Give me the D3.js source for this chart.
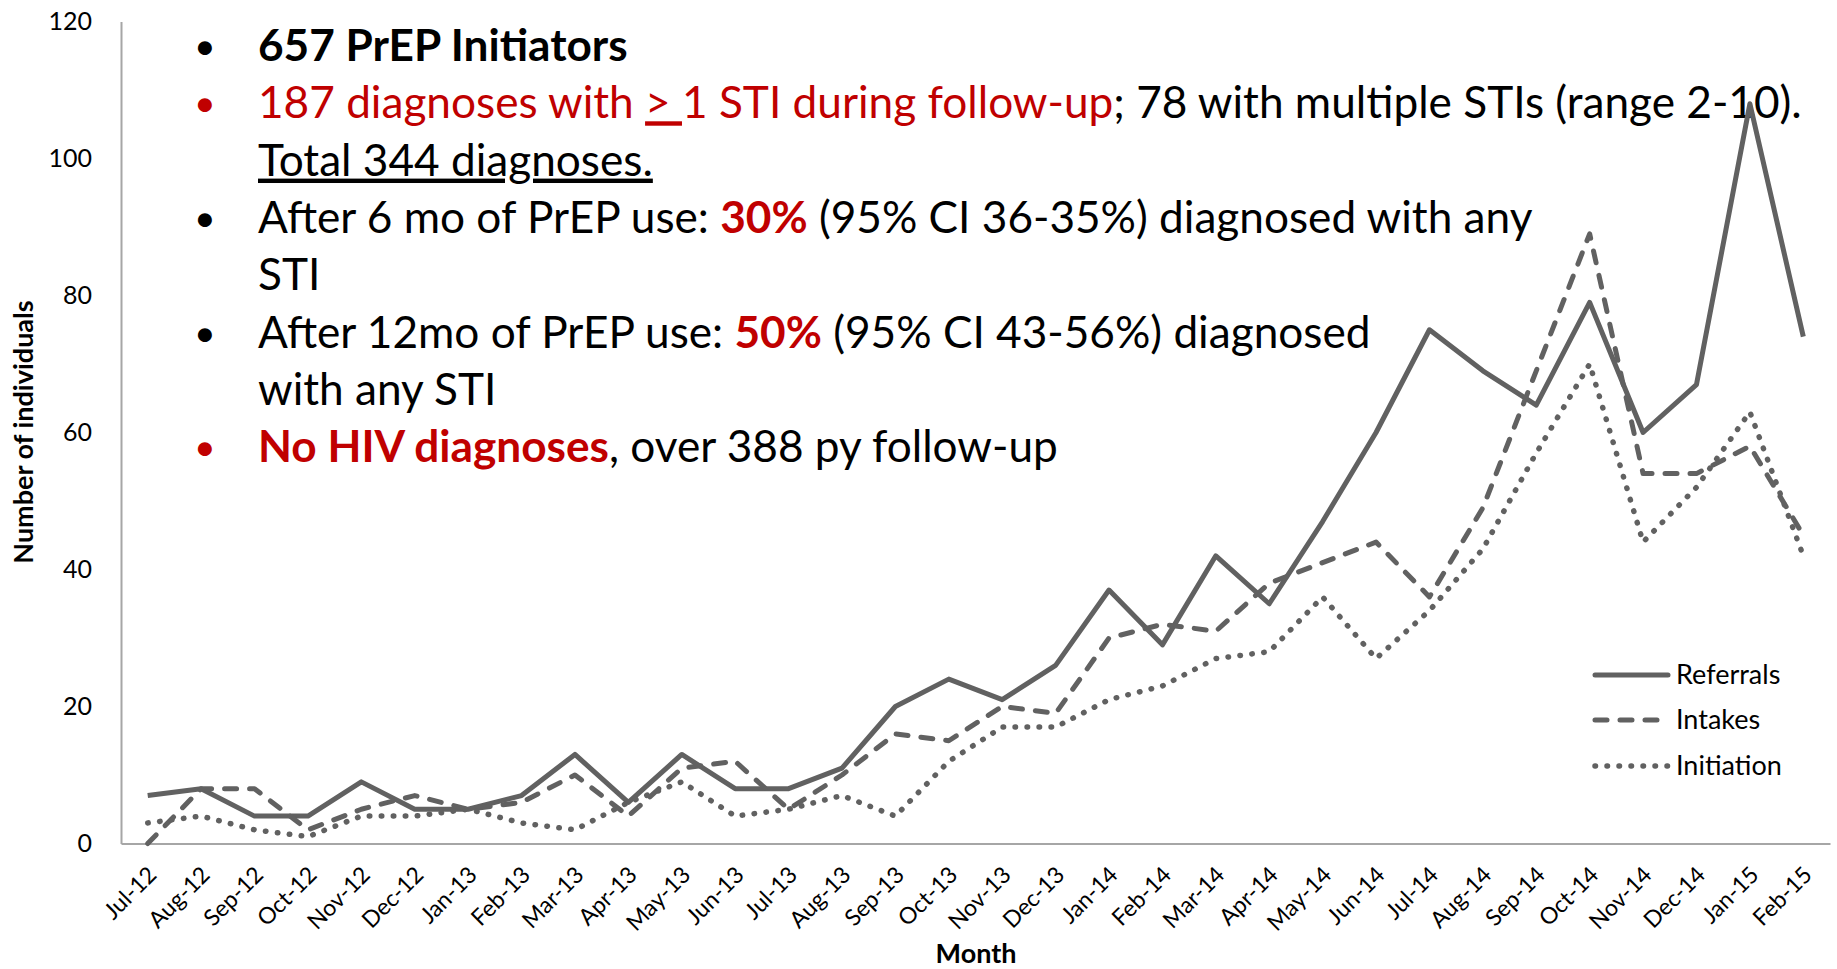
<!DOCTYPE html>
<html>
<head>
<meta charset="utf-8">
<script src="https://cdn.jsdelivr.net/npm/d3@7"></script>
<style>
  html, body { margin: 0; padding: 0; background: #ffffff; }
  svg { display: block; }
</style>
</head>
<body>
<svg id="chart" width="1837" height="969"></svg>
<script>
// ---------------- data ----------------
const months = ["Jul-12","Aug-12","Sep-12","Oct-12","Nov-12","Dec-12",
  "Jan-13","Feb-13","Mar-13","Apr-13","May-13","Jun-13","Jul-13","Aug-13","Sep-13","Oct-13","Nov-13","Dec-13",
  "Jan-14","Feb-14","Mar-14","Apr-14","May-14","Jun-14","Jul-14","Aug-14","Sep-14","Oct-14","Nov-14","Dec-14",
  "Jan-15","Feb-15"];
const referrals  = [7,8,4,4,9,5,5,7,13,6,13,8,8,11,20,24,21,26,37,29,42,35,47,60,75,69,64,79,60,67,108,74];
const intakes    = [0,8,8,2,5,7,5,6,10,4,11,12,5,10,16,15,20,19,30,32,31,38,41,44,36,49,69,89,54,54,58,45];
const initiation = [3,4,2,1,4,4,5,3,2,6,9,4,5,7,4,12,17,17,21,23,27,28,36,27,34,43,57,70,44,52,63,42];
const seriesNames = ["Referrals","Intakes","Initiation"];
const yTicks = [0,20,40,60,80,100,120];
const yTitle = "Number of individuals";
const xTitle = "Month";

// bullet text block (segments: t=text, b=bold, r=red, u=underline)
const bulletLines = [
  {bullet: "black", segs: [{t: "657 PrEP Initiators", b: true}]},
  {bullet: "red", segs: [{t: "187 diagnoses with ", r: true}, {t: "> ", r: true, u: true}, {t: "1 STI during follow-up", r: true}, {t: "; 78 with multiple STIs (range 2-10)."}]},
  {bullet: null, segs: [{t: "Total 344 diagnoses.", u: true}]},
  {bullet: "black", segs: [{t: "After 6 mo of PrEP use: "}, {t: "30%", b: true, r: true}, {t: " (95% CI 36-35%) diagnosed with any"}]},
  {bullet: null, segs: [{t: "STI"}]},
  {bullet: "black", segs: [{t: "After 12mo of PrEP use: "}, {t: "50%", b: true, r: true}, {t: " (95% CI 43-56%) diagnosed"}]},
  {bullet: null, segs: [{t: "with any STI"}]},
  {bullet: "red", segs: [{t: "No HIV diagnoses", b: true, r: true}, {t: ", over 388 py follow-up"}]}
];

// ---------------- layout / style ----------------
const FONT = "Lato, 'Open Sans', 'Noto Sans', sans-serif";
const RED = "#C00000";
const LINE_COLOR = "#616161";
const AXIS_COLOR = "#a6a6a6";
const styles = {
  Referrals:  {dash: null},
  Intakes:    {dash: "12,13"},
  Initiation: {dash: "0.5,11.5"}
};
const svg = d3.select("#chart");
const plotLeft = 121, plotRight = 1830, plotTop = 21.5, plotBottom = 843.5;

const x = d3.scalePoint().domain(months).range([plotLeft, plotRight]).padding(0.5);
const y = d3.scaleLinear().domain([0, 120]).range([plotBottom, plotTop]);

// ---------------- bullet text ----------------
const textG = svg.append("g").attr("font-family", FONT).attr("font-size", 44);
const baseY = 61, lineStep = 57.3, textX = 258, bulletX = 205;
const textNodes = [];
bulletLines.forEach((ln, i) => {
  const yy = baseY + i * lineStep;
  if (ln.bullet) {
    textG.append("text").attr("x", bulletX).attr("y", yy - 2).attr("text-anchor", "middle")
      .attr("font-size", "0.85em")
      .attr("fill", ln.bullet === "red" ? RED : "#000").text("\u2022");
  }
  const t = textG.append("text").attr("x", textX).attr("y", yy).attr("fill", "#000");
  ln.segs.forEach(s => {
    const sp = t.append("tspan").text(s.t)
      .attr("fill", s.r ? RED : "#000")
      .attr("font-weight", s.b ? "bold" : "normal");
    if (s.u) sp.attr("text-decoration", "underline").style("text-decoration", "underline");
  });
  textNodes.push(t);
});
// fit the block so that the long second line spans the same width as the reference
const w2 = textNodes[1].node().getComputedTextLength();
textG.attr("font-size", 44 * 1544 / w2);

// ---------------- axes ----------------
const yAxis = svg.append("g").attr("transform", `translate(${plotLeft},0)`)
  .call(d3.axisLeft(y).tickValues(yTicks).tickSize(0).tickPadding(29));
yAxis.select(".domain").attr("stroke", AXIS_COLOR).attr("stroke-width", 2);
yAxis.selectAll("text").attr("font-family", FONT).attr("font-size", 25).attr("fill", "#000");

const xAxis = svg.append("g").attr("transform", `translate(0,${plotBottom})`)
  .call(d3.axisBottom(x).tickSize(0).tickSizeOuter(0));
xAxis.select(".domain").attr("stroke", AXIS_COLOR).attr("stroke-width", 2);
xAxis.selectAll("text")
  .attr("font-family", FONT).attr("font-size", 23).attr("fill", "#000")
  .attr("y", null).attr("dy", "0.35em").attr("x", null)
  .attr("text-anchor", "end")
  .attr("transform", "translate(4,27) rotate(-45)");

svg.append("text").attr("transform", "translate(24,432) rotate(-90)")
  .attr("text-anchor", "middle").attr("dy", "0.35em")
  .attr("font-family", FONT).attr("font-weight", "bold").attr("font-size", 27)
  .text(yTitle);
svg.append("text").attr("x", 976).attr("y", 963)
  .attr("text-anchor", "middle")
  .attr("font-family", FONT).attr("font-weight", "bold").attr("font-size", 27)
  .text(xTitle);

// ---------------- lines ----------------
const seriesData = [referrals, intakes, initiation];
const line = d3.line().x((d, i) => x(months[i])).y(d => y(d));
seriesData.forEach((vals, k) => {
  const st = styles[seriesNames[k]];
  svg.append("path").datum(vals)
    .attr("d", line)
    .attr("fill", "none")
    .attr("stroke", LINE_COLOR)
    .attr("stroke-width", k === 2 ? 5.5 : 5)
    .attr("stroke-linejoin", "round")
    .attr("stroke-linecap", k === 0 ? "butt" : "round")
    .attr("stroke-dasharray", st.dash);
});

// ---------------- legend ----------------
const legY = [675, 720, 766];
seriesNames.forEach((name, k) => {
  const st = styles[name];
  svg.append("line").attr("x1", 1595).attr("x2", 1668).attr("y1", legY[k]).attr("y2", legY[k])
    .attr("stroke", LINE_COLOR).attr("stroke-width", k === 2 ? 5.5 : 5)
    .attr("stroke-linecap", "round")
    .attr("stroke-dasharray", st.dash);
  svg.append("text").attr("x", 1676).attr("y", legY[k]).attr("dy", "0.35em")
    .attr("font-family", FONT).attr("font-size", 27).attr("fill", "#000")
    .text(name);
});
</script>
</body>
</html>
